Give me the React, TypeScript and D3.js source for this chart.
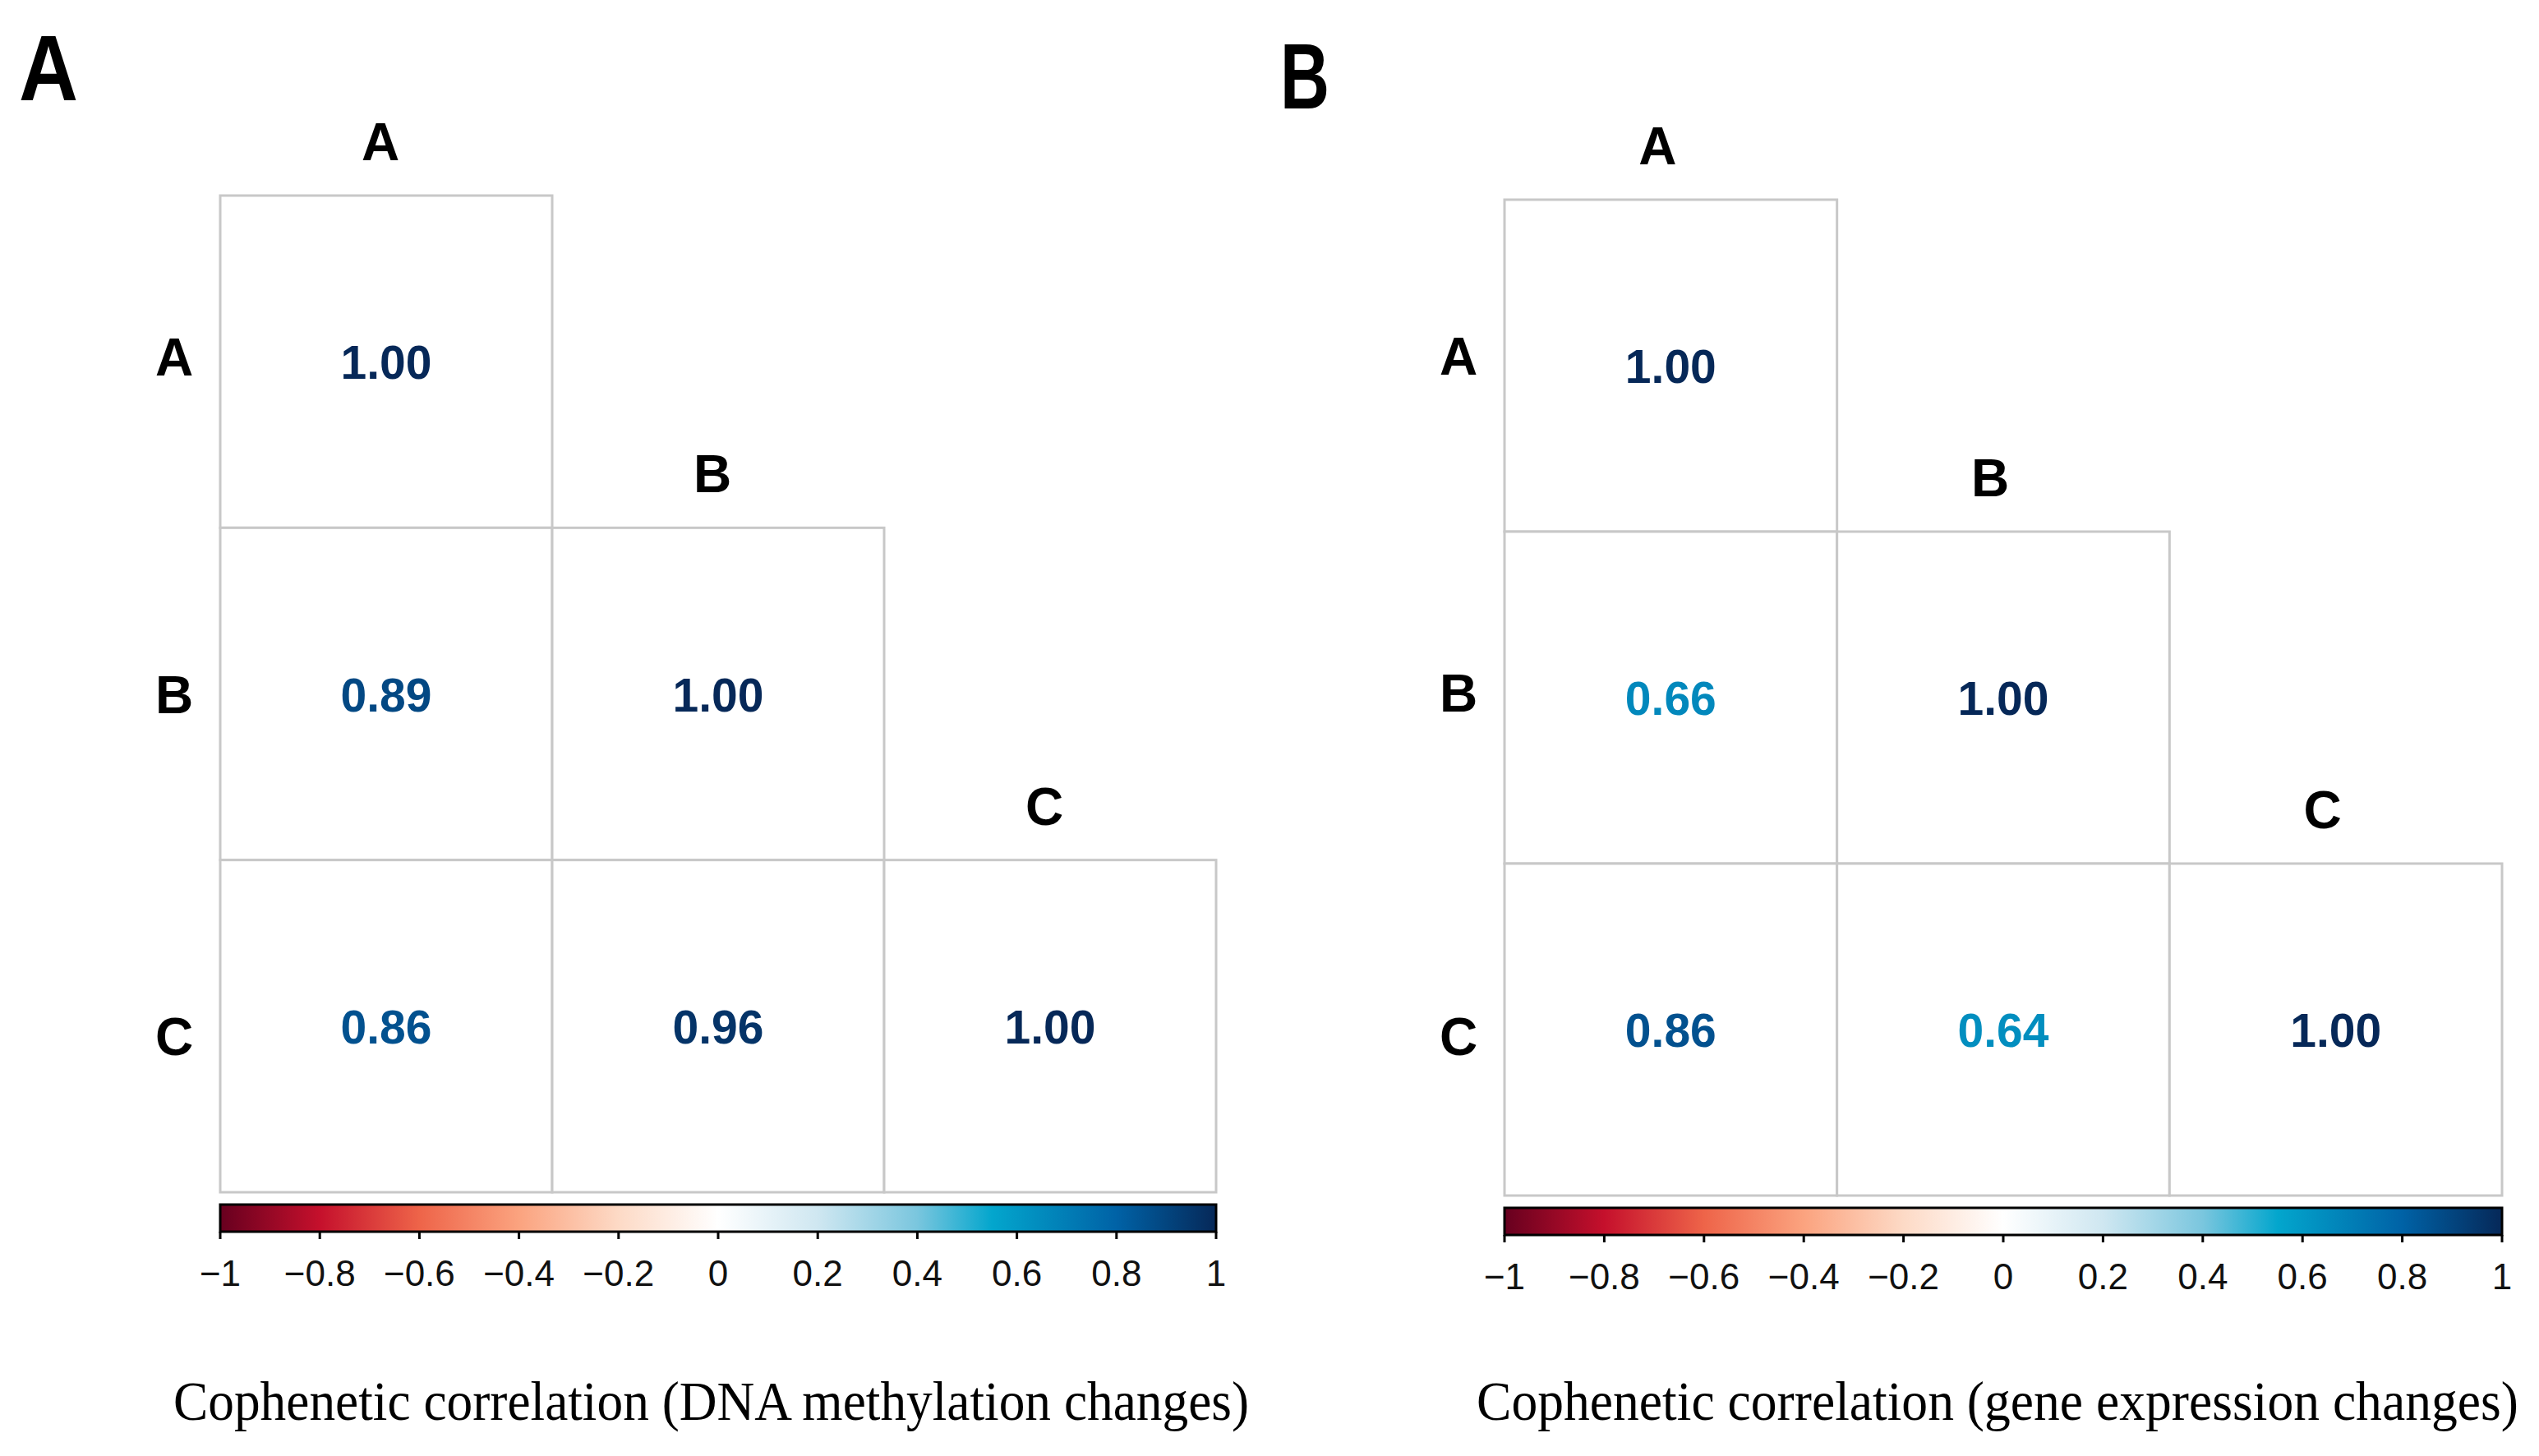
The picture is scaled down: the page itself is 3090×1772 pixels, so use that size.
import * as d3 from "d3";
import { useLayoutEffect, useRef, useState } from "react";

const labels = ["A", "B", "C"];
// lower-triangle matrices (row i holds columns 0..i)
const methylation = [[1.0], [0.89, 1.0], [0.86, 0.96, 1.0]];
const expression = [[1.0], [0.66, 1.0], [0.86, 0.64, 1.0]];
const legendTicks = [-1, -0.8, -0.6, -0.4, -0.2, 0, 0.2, 0.4, 0.6, 0.8, 1];
const paletteValues = [-1, -0.8, -0.6, -0.4, -0.2, 0, 0.2, 0.4, 0.55, 0.8, 1];
const paletteColors = [
  "#67001F", "#C5102C", "#EE6449", "#FBA37F", "#FDDAC6", "#FFFFFF",
  "#CFE7F1", "#7AC6DE", "#03A6CD", "#0062A6", "#062858",
];

const W = 3090;
const H = 1772;
const SANS = "'Liberation Sans', Arial, sans-serif";
const SERIF = "'Liberation Serif', 'Times New Roman', serif";

const color = d3
  .scaleLinear<string>()
  .domain(paletteValues)
  .range(paletteColors)
  .interpolate(d3.interpolateRgb);

const tickText = (t: number) =>
  t === 0 ? "0" : `${t < 0 ? "\u2212" : ""}${Math.abs(t) === 1 ? "1" : d3.format(".1f")(Math.abs(t))}`;

// serif caption squeezed horizontally to the reference width
function Caption({ x0, x1, y, text }: { x0: number; x1: number; y: number; text: string }) {
  const ref = useRef<SVGTextElement>(null);
  const [sx, setSx] = useState(0.93);
  useLayoutEffect(() => {
    if (!ref.current) return;
    const w = ref.current.getComputedTextLength();
    if (w > 0) setSx((x1 - x0) / w);
  }, [x0, x1, text]);
  return (
    <text
      ref={ref}
      transform={`translate(${x0},${y}) scale(${sx},1)`}
      fontFamily={SERIF}
      fontSize={68}
    >
      {text}
    </text>
  );
}

interface PanelProps {
  id: string;
  letter: string;
  letterX: number;
  letterY: number;
  letterW: number;
  values: number[][];
  x0: number;
  x1: number;
  y0: number;
  y1: number;
  headerDx: number;
  rowNudge: number[];
  barY: number;
  title: string;
  titleX0: number;
  titleX1: number;
}

function Panel(p: PanelProps) {
  const x = d3.scaleBand<string>().domain(labels).range([p.x0, p.x1]);
  const y = d3.scaleBand<string>().domain(labels).range([p.y0, p.y1]);
  const bw = x.bandwidth();
  const bh = y.bandwidth();
  const lx = d3.scaleLinear().domain([-1, 1]).range([p.x0, p.x1]);
  const barH = 33;
  const gridColor = "#C8C8C8";

  const cells: { r: string; c: string; v: number }[] = [];
  p.values.forEach((row, i) =>
    row.forEach((v, j) => cells.push({ r: labels[i], c: labels[j], v }))
  );

  return (
    <g>
      <defs>
        <linearGradient id={`grad-${p.id}`} x1="0" x2="1" y1="0" y2="0">
          {paletteValues.map((v, i) => (
            <stop key={i} offset={`${((v + 1) / 2) * 100}%`} stopColor={paletteColors[i]} />
          ))}
        </linearGradient>
      </defs>

      <text
        x={p.letterX}
        y={p.letterY}
        fontFamily={SANS}
        fontWeight="bold"
        fontSize={114}
        textLength={p.letterW}
        lengthAdjust="spacingAndGlyphs"
      >
        {p.letter}
      </text>

      {/* cells */}
      {cells.map((d) => (
        <rect
          key={`${d.r}${d.c}`}
          x={x(d.c)}
          y={y(d.r)}
          width={bw}
          height={bh}
          fill="#fff"
          stroke={gridColor}
          strokeWidth={3}
        />
      ))}
      {cells.map((d) => (
        <text
          key={`t${d.r}${d.c}`}
          x={(x(d.c) ?? 0) + bw / 2}
          y={(y(d.r) ?? 0) + bh / 2 + 21}
          textAnchor="middle"
          fontFamily={SANS}
          fontWeight="bold"
          fontSize={57}
          fill={color(d.v)}
        >
          {d.v.toFixed(2)}
        </text>
      ))}

      {/* column headers along the diagonal */}
      {labels.map((l) => (
        <text
          key={`h${l}`}
          x={(x(l) ?? 0) + bw / 2 + p.headerDx}
          y={(y(l) ?? 0) - 43}
          textAnchor="middle"
          fontFamily={SANS}
          fontWeight="bold"
          fontSize={64}
        >
          {l}
        </text>
      ))}
      {/* row labels */}
      {labels.map((l, i) => (
        <text
          key={`r${l}`}
          x={p.x0 - 56}
          y={(y(l) ?? 0) + bh / 2 + 23 + p.rowNudge[i]}
          textAnchor="middle"
          fontFamily={SANS}
          fontWeight="bold"
          fontSize={64}
        >
          {l}
        </text>
      ))}

      {/* colour legend */}
      <rect
        x={p.x0}
        y={p.barY}
        width={p.x1 - p.x0}
        height={barH}
        fill={`url(#grad-${p.id})`}
        stroke="#000"
        strokeWidth={3}
      />
      {legendTicks.map((t) => (
        <g key={`k${t}`}>
          <line
            x1={lx(t)}
            x2={lx(t)}
            y1={p.barY + barH}
            y2={p.barY + barH + 9}
            stroke="#000"
            strokeWidth={3}
          />
          <text
            x={lx(t)}
            y={p.barY + barH + 66}
            textAnchor="middle"
            fontFamily={SANS}
            fontSize={44}
            fill="#111"
          >
            {tickText(t)}
          </text>
        </g>
      ))}

      <Caption x0={p.titleX0} x1={p.titleX1} y={1728} text={p.title} />
    </g>
  );
}

export default function App() {
  return (
    <svg
      width={W}
      height={H}
      viewBox={`0 0 ${W} ${H}`}
      style={{ position: "absolute", left: 0, top: 0, background: "#fff" }}
    >
      <rect width={W} height={H} fill="#fff" />
      <Panel
        id="a"
        letter="A"
        letterX={23}
        letterY={122}
        letterW={72}
        values={methylation}
        x0={268}
        x1={1480}
        y0={238}
        y1={1451}
        headerDx={-7}
        rowNudge={[-6, 0, 12]}
        barY={1466}
        title="Cophenetic correlation (DNA methylation changes)"
        titleX0={211}
        titleX1={1520}
      />
      <Panel
        id="b"
        letter="B"
        letterX={1558}
        letterY={132}
        letterW={60}
        values={expression}
        x0={1831}
        x1={3045}
        y0={243}
        y1={1455}
        headerDx={-16}
        rowNudge={[-12, -6, 8]}
        barY={1470}
        title="Cophenetic correlation (gene expression changes)"
        titleX0={1797}
        titleX1={3065}
      />
    </svg>
  );
}
